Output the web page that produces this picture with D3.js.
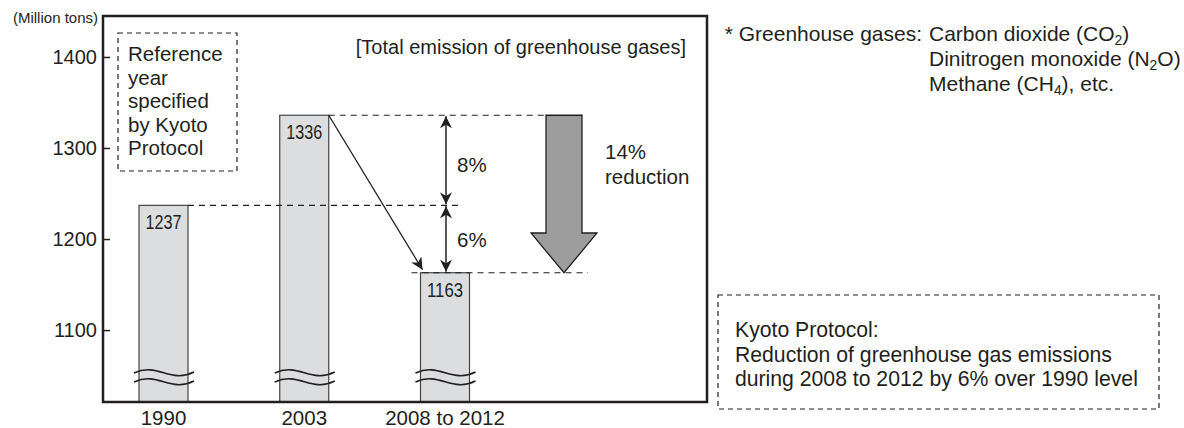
<!DOCTYPE html>
<html><head><meta charset="utf-8">
<script src="https://cdn.jsdelivr.net/npm/d3@7"></script>
<style>body{margin:0;background:#fff}svg{display:block}text{font-family:"Liberation Sans",Arial,sans-serif;fill:#231f20}</style>
</head><body><svg id="c" width="1184" height="428"></svg>
<script>
const categories = ["1990", "2003", "2008 to 2012"];
const values = [1237, 1336, 1163];
const yTicks = [1100, 1200, 1300, 1400];
const pctLabels = ["8%", "6%"];

(function () {
const svg = d3.select("#c");
const fL = 103, fR = 707, fT = 16, fB = 402;
const ink = "#231f20";

const y = d3.scaleLinear().domain([1021, 1445]).range([fB, fT]);
const x = d3.scalePoint().domain(categories).range([163.5, 445]);
const bw = 49;

// bars
const bars = svg.append("g");
categories.forEach((c, i) => {
  bars.append("rect").attr("x", x(c) - bw / 2).attr("y", y(values[i]))
    .attr("width", bw).attr("height", fB - y(values[i]))
    .attr("fill", "#dcdddf").attr("stroke", "#444").attr("stroke-width", 1.2);
  bars.append("text").attr("x", x(c)).attr("y", y(values[i]) + 24)
    .attr("text-anchor", "middle").attr("font-size", 19.5)
    .attr("textLength", 36).attr("lengthAdjust", "spacingAndGlyphs")
    .text(values[i]);
  [0, 9].forEach(off => {
    const x0 = x(c) - bw / 2 - 5, x1 = x(c) + bw / 2 + 6, yy = 373 + off;
    const p = d3.path();
    p.moveTo(x0, yy);
    p.bezierCurveTo(x0 + 24, yy - 11, x1 - 24, yy + 11, x1, yy - 1);
    bars.append("path").attr("d", p.toString()).attr("fill", "none")
      .attr("stroke", ink).attr("stroke-width", 1.6);
  });
});

// frame
svg.append("rect").attr("x", fL).attr("y", fT).attr("width", fR - fL).attr("height", fB - fT)
  .attr("fill", "none").attr("stroke", ink).attr("stroke-width", 2.5);

// y axis
const ax = svg.append("g").attr("transform", `translate(${fL},0)`)
  .call(d3.axisRight(y).tickValues(yTicks).tickSize(7).tickFormat(""));
ax.select(".domain").remove();
ax.selectAll("line").attr("stroke", ink).attr("stroke-width", 1.5);
yTicks.forEach(t => {
  svg.append("text").attr("x", 97).attr("y", y(t) + 7).attr("text-anchor", "end")
    .attr("font-size", 20).text(t);
});
svg.append("text").attr("x", 98).attr("y", 23).attr("text-anchor", "end")
  .attr("font-size", 15).text("(Million tons)");

// x labels
categories.forEach(c => {
  svg.append("text").attr("x", x(c)).attr("y", 425).attr("text-anchor", "middle")
    .attr("font-size", 20.5).text(c);
});

// title
svg.append("text").attr("x", 686).attr("y", 54).attr("text-anchor", "end")
  .attr("font-size", 20).text("[Total emission of greenhouse gases]");

// Reference year box
svg.append("rect").attr("x", 118).attr("y", 33).attr("width", 119).attr("height", 138)
  .attr("fill", "none").attr("stroke", ink).attr("stroke-width", 1.2).attr("stroke-dasharray", "5,4");
["Reference", "year", "specified", "by Kyoto", "Protocol"].forEach((t, i) => {
  svg.append("text").attr("x", 128).attr("y", 61 + i * 23.5).attr("font-size", 20.5).text(t);
});

// dashed reference lines
const dash = (x0, x1, v) => svg.append("line").attr("x1", x0).attr("x2", x1)
  .attr("y1", y(v)).attr("y2", y(v)).attr("stroke", ink).attr("stroke-width", 1.2).attr("stroke-dasharray", "6,5");
const xa = x(categories[2]) + 1;
const bigX = x(categories[2]) + 119;
dash(x(categories[1]) + bw / 2, bigX - 18, values[1]);
dash(x(categories[0]) + bw / 2, xa + 17, values[0]);
dash(x(categories[2]) - bw / 2 - 9, bigX + 24, values[2]);

// markers
const defs = svg.append("defs");
defs.append("marker").attr("id", "ah").attr("viewBox", "0 0 10 10").attr("refX", 10).attr("refY", 5)
  .attr("markerWidth", 12).attr("markerHeight", 12).attr("markerUnits", "userSpaceOnUse").attr("orient", "auto-start-reverse")
  .append("path").attr("d", "M0,0 L10,5 L0,10 L3,5 Z").attr("fill", ink);

const dArrow = (v0, v1) => svg.append("line").attr("x1", xa).attr("x2", xa)
  .attr("y1", y(v0) + 1).attr("y2", y(v1) - 1).attr("stroke", ink).attr("stroke-width", 1.5)
  .attr("marker-start", "url(#ah)").attr("marker-end", "url(#ah)");
dArrow(values[1], values[0]);
dArrow(values[0], values[2]);
svg.append("text").attr("x", xa + 11).attr("y", (y(values[1]) + y(values[0])) / 2 + 12)
  .attr("font-size", 20.5).text(pctLabels[0]);
svg.append("text").attr("x", xa + 11).attr("y", (y(values[0]) + y(values[2])) / 2 + 8)
  .attr("font-size", 20.5).text(pctLabels[1]);

// diagonal arrow
svg.append("line").attr("x1", x(categories[1]) + bw / 2).attr("y1", y(values[1]))
  .attr("x2", x(categories[2]) - bw / 2 + 2).attr("y2", y(values[2]) - 3)
  .attr("stroke", ink).attr("stroke-width", 1.3).attr("marker-end", "url(#ah)");

// big arrow
const sh = 18, hw = 33, headTop = 233;
const yT = y(values[1]), yB = y(values[2]);
svg.append("path").attr("d",
  `M${bigX - sh},${yT} L${bigX + sh},${yT} L${bigX + sh},${headTop} L${bigX + hw},${headTop} L${bigX},${yB} L${bigX - hw},${headTop} L${bigX - sh},${headTop} Z`)
  .attr("fill", "#9d9d9d").attr("stroke", ink).attr("stroke-width", 1.3);
svg.append("text").attr("x", 605).attr("y", 159).attr("font-size", 20.5).text("14%");
svg.append("text").attr("x", 605).attr("y", 184).attr("font-size", 20.5).text("reduction");

// greenhouse gases note
const gx2 = 929, fs = 21;
function subText(xp, yp, a, sub, b) {
  const t = svg.append("text").attr("x", xp).attr("y", yp).attr("font-size", fs);
  t.append("tspan").text(a);
  t.append("tspan").attr("font-size", fs * 0.66).attr("dy", 4).text(sub);
  t.append("tspan").attr("dy", -4).text(b);
}
svg.append("text").attr("x", 922).attr("y", 41).attr("text-anchor", "end").attr("font-size", fs).text("* Greenhouse gases:");
subText(gx2, 41, "Carbon dioxide (CO", "2", ")");
subText(gx2, 66, "Dinitrogen monoxide (N", "2", "O)");
subText(gx2, 91, "Methane (CH", "4", "), etc.");

// Kyoto box
svg.append("rect").attr("x", 718).attr("y", 295).attr("width", 441).attr("height", 114)
  .attr("fill", "none").attr("stroke", ink).attr("stroke-width", 1.2).attr("stroke-dasharray", "5,4");
["Kyoto Protocol:", "Reduction of greenhouse gas emissions", "during 2008 to 2012 by 6% over 1990 level"].forEach((t, i) => {
  svg.append("text").attr("x", 735).attr("y", 337 + i * 24.5).attr("font-size", 21.2).text(t);
});
})();
</script></body></html>
